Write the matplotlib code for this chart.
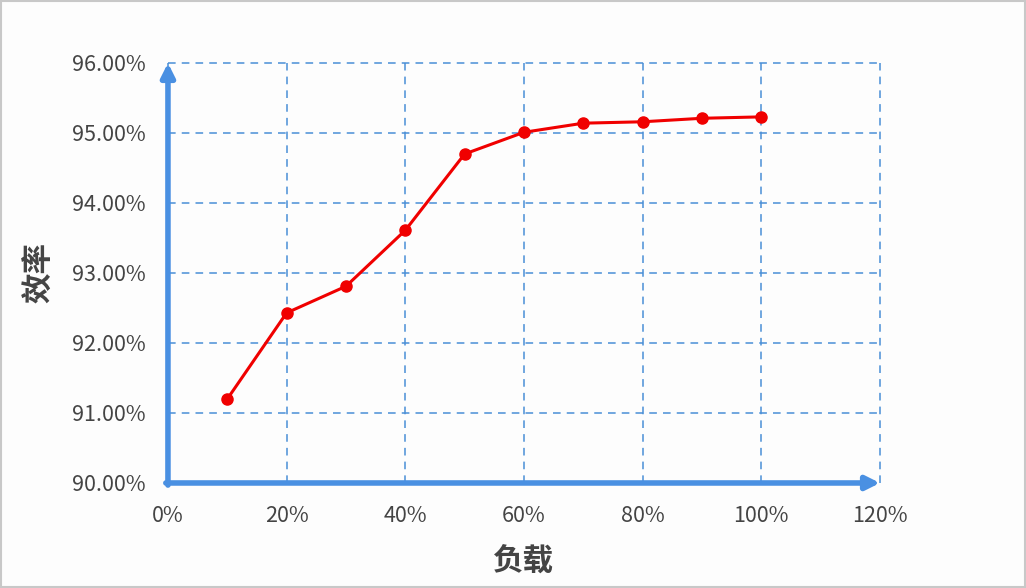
import matplotlib
matplotlib.use("Agg")
import matplotlib.pyplot as plt
from matplotlib.ticker import FuncFormatter

plt.rcParams['font.family'] = ['Noto Sans CJK SC', 'DejaVu Sans']

load = [10, 20, 30, 40, 50, 60, 70, 80, 90, 100]
efficiency = [91.20, 92.43, 92.81, 93.61, 94.70, 95.01, 95.14, 95.16, 95.21, 95.23]
x_ticks = [0, 20, 40, 60, 80, 100, 120]
y_ticks = [90, 91, 92, 93, 94, 95, 96]

fig = plt.figure(figsize=(10.26, 5.88), dpi=100, facecolor='#fdfdfd')
ax = fig.add_axes([0.1637, 0.1786, 0.8577 - 0.1637, 0.8929 - 0.1786])
ax.set_facecolor('#fdfdfd')

grid_color = '#4a8fd6'
ax.set_xlim(0, 120)
ax.set_ylim(90, 96)
ax.set_xticks(x_ticks)
ax.set_yticks(y_ticks)
ax.xaxis.set_major_formatter(FuncFormatter(lambda v, p: f"{v:.0f}%"))
ax.yaxis.set_major_formatter(FuncFormatter(lambda v, p: f"{v:.2f}%"))
ax.grid(True, color=grid_color, linestyle=(0, (5, 4)), linewidth=1.1)
for gl in ax.get_xgridlines() + ax.get_ygridlines():
    gl.set_clip_on(False)
for s in ax.spines.values():
    s.set_visible(False)
ax.tick_params(length=0, labelsize=15.5, labelcolor='#444444')
ax.tick_params(axis='y', pad=16)
ax.tick_params(axis='x', pad=16)

axis_color = '#4a90e2'
ax.annotate('', xy=(0, 1.0), xytext=(0, -0.005), xycoords='axes fraction',
            arrowprops=dict(arrowstyle='-|>,head_length=0.8,head_width=0.4',
                            color=axis_color, lw=4, shrinkA=0, shrinkB=0),
            annotation_clip=False)
ax.annotate('', xy=(1.0, 0), xytext=(-0.003, 0), xycoords='axes fraction',
            arrowprops=dict(arrowstyle='-|>,head_length=0.8,head_width=0.4',
                            color=axis_color, lw=4, shrinkA=0, shrinkB=0),
            annotation_clip=False)

ax.plot(load, efficiency, color='#f00000', linewidth=2.2, marker='o',
        markersize=8, zorder=5, clip_on=False)

ax.set_xlabel('负载', fontsize=22, fontweight='bold', color='#444444', labelpad=13)
ax.set_ylabel('效率', fontsize=22, fontweight='bold', color='#444444', labelpad=12)

fig.patches.append(plt.Rectangle((0.001, 0.001), 0.998, 0.998, transform=fig.transFigure,
                                 fill=False, edgecolor='#c8c8c8', linewidth=1.5))

fig.savefig('out.png', dpi=100, facecolor=fig.get_facecolor())
